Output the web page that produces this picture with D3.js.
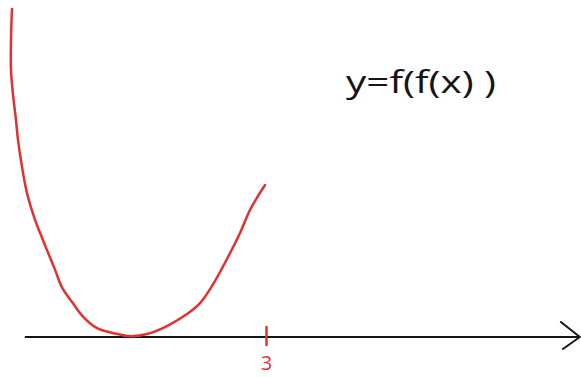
<!DOCTYPE html>
<html>
<head>
<meta charset="utf-8">
<script src="https://cdn.jsdelivr.net/npm/d3@7"></script>
<style>
  html, body { margin: 0; padding: 0; background: #fff; }
  svg { display: block; }
</style>
</head>
<body>
<svg id="chart" width="581" height="377"></svg>
<script>
// Sketch of y = f(f(x)): a U-shaped curve touching the x-axis, ending at x = 3
const curveX = [0.135, 0.124, 0.124, 0.147, 0.18, 0.203, 0.248, 0.305, 0.395, 0.462, 0.53, 0.62, 0.699, 0.823, 0.936, 1.094, 1.274, 1.466, 1.658, 1.883, 2.109, 2.256, 2.391, 2.56, 2.707, 2.819, 2.91, 2.989];
const curveY = [3.70, 3.35, 3.01, 2.73, 2.45, 2.22, 1.92, 1.62, 1.32, 1.15, 0.98, 0.76, 0.56, 0.38, 0.23, 0.10, 0.045, 0.01, 0.034, 0.124, 0.259, 0.383, 0.575, 0.88, 1.173, 1.432, 1.59, 1.714];
const tickValues = [3];
const tickLabels = ["3"];
const axisExtent = [0.28, 6.54];
const title = "y=f(f(x) )";

const svg = d3.select("#chart");
const x = d3.scaleLinear().domain([0, 3]).range([0, 266]);
const y = d3.scaleLinear().domain([0, 3]).range([337, 71]);

const red = "#e4312f";
const ink = "#151515";

// x-axis line
svg.append("line")
  .attr("x1", x(axisExtent[0])).attr("x2", x(axisExtent[1]))
  .attr("y1", y(0)).attr("y2", y(0))
  .attr("stroke", ink).attr("stroke-width", 2);

// arrowhead
const tipX = x(axisExtent[1]), tipY = y(0);
svg.append("path")
  .attr("d", `M${tipX - 19},${tipY - 15} L${tipX},${tipY} L${tipX - 17},${tipY + 12}`)
  .attr("fill", "none").attr("stroke", ink).attr("stroke-width", 2)
  .attr("stroke-linecap", "round").attr("stroke-linejoin", "round");

// tick mark at x = 3
const axis = d3.axisBottom(x)
  .tickValues(tickValues)
  .tickFormat((d, i) => tickLabels[i])
  .tickSize(18)
  .tickPadding(11);
const gAxis = svg.append("g")
  .attr("transform", `translate(0,${y(0) - 10})`)
  .call(axis);
gAxis.select(".domain").remove();
gAxis.selectAll(".tick line")
  .attr("stroke", red).attr("stroke-width", 2.5).attr("stroke-linecap", "round");
gAxis.selectAll(".tick text")
  .attr("fill", red)
  .style("font-family", "'Open Sans', 'DejaVu Sans', sans-serif")
  .style("font-size", "20px");

// the curve
const pts = curveX.map((d, i) => [d, curveY[i]]);
const line = d3.line()
  .x(d => x(d[0]))
  .y(d => y(d[1]))
  .curve(d3.curveCatmullRom.alpha(0.5));
svg.append("path")
  .datum(pts)
  .attr("d", line)
  .attr("fill", "none")
  .attr("stroke", red)
  .attr("stroke-width", 2.5)
  .attr("stroke-linecap", "round")
  .attr("stroke-linejoin", "round");

// label
svg.append("text")
  .attr("x", 346).attr("y", 93)
  .attr("textLength", 150)
  .attr("lengthAdjust", "spacingAndGlyphs")
  .attr("fill", ink)
  .style("font-family", "'Open Sans', 'DejaVu Sans', sans-serif")
  .style("font-weight", 400)
  .style("font-size", "31px")
  .text(title);
</script>
</body>
</html>
